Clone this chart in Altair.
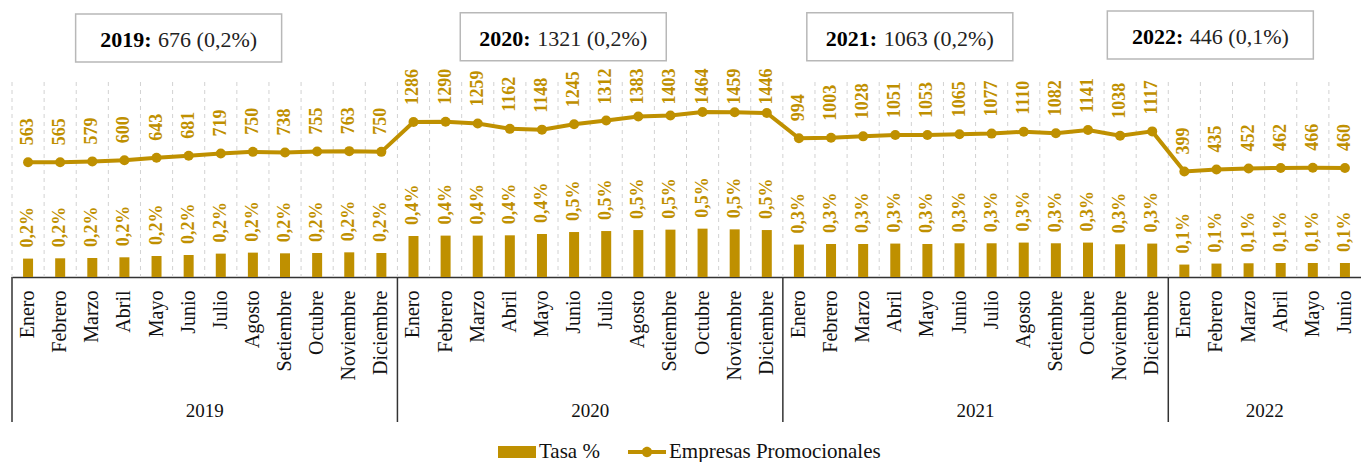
import altair as alt
import pandas as pd

# ---------------- data ----------------
MONTHS = ["Enero", "Febrero", "Marzo", "Abril", "Mayo", "Junio", "Julio",
          "Agosto", "Setiembre", "Octubre", "Noviembre", "Diciembre"]
YEARS = [2019, 2020, 2021, 2022]

EMPRESAS_2019 = [563, 565, 579, 600, 643, 681, 719, 750, 738, 755, 763, 750]
EMPRESAS_2020 = [1286, 1290, 1259, 1162, 1148, 1245, 1312, 1383, 1403, 1464, 1459, 1446]
EMPRESAS_2021 = [994, 1003, 1028, 1051, 1053, 1065, 1077, 1110, 1082, 1141, 1038, 1117]
EMPRESAS_2022 = [399, 435, 452, 462, 466, 460]

TASA_2019 = [0.185, 0.188, 0.191, 0.198, 0.211, 0.221, 0.235, 0.245, 0.238, 0.241, 0.248, 0.241]
TASA_2020 = [0.412, 0.416, 0.416, 0.419, 0.432, 0.452, 0.462, 0.472, 0.476, 0.486, 0.479, 0.472]
TASA_2021 = [0.326, 0.332, 0.332, 0.336, 0.332, 0.339, 0.339, 0.346, 0.339, 0.346, 0.329, 0.336]
TASA_2022 = [0.125, 0.135, 0.138, 0.141, 0.141, 0.141]

YEAR_TOTAL = [676, 1321, 1063, 446]
YEAR_TASA = ["0,2%", "0,2%", "0,2%", "0,1%"]

EMPRESAS = [EMPRESAS_2019, EMPRESAS_2020, EMPRESAS_2021, EMPRESAS_2022]
TASA = [TASA_2019, TASA_2020, TASA_2021, TASA_2022]

# ---------------- layout / style ----------------
W, H = 1349, 195
PAD = {"left": 12, "top": 82, "right": 0, "bottom": 185}
GOLD = "#BF9000"
FONT = "Liberation Serif"
LABEL_CAP = 1295  # line labels are kept below this level (as in the original)
# box centre (in band units from the left) and vertical centre (px from top of page)
BOX_CENTER = [5.188, 17.163, 27.953, 37.309]
BOX_Y = [38, 36.7, 36.7, 35]
BOX_W, BOX_H = 206, 48

rows = []
for y, emp, tas in zip(YEARS, EMPRESAS, TASA):
    for m, e, t in zip(MONTHS, emp, tas):
        rows.append({
            "key": f"{y}|{m}", "year": y, "month": m,
            "empresas": e, "tasa": t,
            "tasa_lbl": f"{t:.1f}".replace(".", ",") + "%",
            "pos_lbl": min(e, LABEL_CAP),
            "serie": "Tasa %",
        })
df = pd.DataFrame(rows)
keys = list(df["key"])
BW = W / len(keys)

x_axis = alt.Axis(
    labelExpr="split(datum.value, '|')[1]",
    labelAngle=270, labelAlign="right", labelBaseline="middle",
    labelPadding=13, labelFont=FONT, labelFontSize=20, labelColor="#111",
    labelOverlap=False, labelLimit=0,
    ticks=False, grid=False, domainColor="#333", domainWidth=1.5,
)
X = alt.X("key:N", scale=alt.Scale(domain=keys, paddingInner=0, paddingOuter=0),
          axis=x_axis, title=None)

# dashed vertical grid at band boundaries
grid = alt.Chart(df).mark_rule(color="#d2d2d2", strokeDash=[4, 4], strokeWidth=1,
                               xOffset=-BW / 2).encode(
    x=X, y=alt.value(0), y2=alt.value(H))

# solid separators between years (below axis)
seps = alt.Chart(df[df["month"] == "Enero"]).mark_rule(
    color="#333", strokeWidth=1.5, xOffset=-BW / 2).encode(
    x=X, y=alt.value(H), y2=alt.value(H + 145))

# ------------- bars ---------------
RECT = "M-1,-0.32L1,-0.32L1,0.32L-1,0.32Z"
LINEDOT = ("M-1,-0.1L1,-0.1L1,0.1L-1,0.1Z"
           "M-0.27,0A0.27,0.27 0 1,1 0.27,0A0.27,0.27 0 1,1 -0.27,0Z")
legend = alt.Legend(
    orient="none", legendX=486, legendY=351, direction="horizontal",
    title=None, symbolSize=1444, labelFont=FONT, labelFontSize=21,
    labelColor="#111", labelOffset=3, columnPadding=28, padding=0, labelLimit=0,
    symbolType={"expr": f"datum.value === 'Tasa %' ? '{RECT}' : '{LINEDOT}'"},
    symbolFillColor=GOLD, symbolStrokeWidth=0, symbolOpacity=1,
)
ybar = alt.Y("tasa:Q", scale=alt.Scale(domain=[0, 1.96], nice=False, zero=True), axis=None)
bars = alt.Chart(df).mark_bar(size=10).encode(
    x=X, y=ybar,
    color=alt.Color("serie:N", scale=alt.Scale(domain=["Tasa %", "Empresas Promocionales"],
                                              range=[GOLD, GOLD]), legend=legend),
)
bar_text = alt.Chart(df).mark_text(
    angle=270, align="left", baseline="middle", dx=11, font=FONT,
    fontSize=18, fontWeight="bold", color=GOLD).encode(x=X, y=ybar, text="tasa_lbl:N")
bar_layer = alt.layer(bars, bar_text)

# ------------- line ---------------
ydom = alt.Scale(domain=[-1493, 2002], nice=False, zero=False)
line = alt.Chart(df).mark_line(color=GOLD, strokeWidth=4).encode(
    x=X, y=alt.Y("empresas:Q", scale=ydom, axis=None))
pts = alt.Chart(df).mark_circle(color=GOLD, size=100, opacity=1).encode(
    x=X, y=alt.Y("empresas:Q", scale=ydom, axis=None))
line_text = alt.Chart(df).mark_text(
    angle=270, align="left", baseline="middle", dx=17, font=FONT,
    fontSize=18, fontWeight="bold", color=GOLD).encode(
    x=X, y=alt.Y("pos_lbl:Q", scale=ydom, axis=None), text="empresas:N")
line_layer = alt.layer(line, pts, line_text)

# ------------- year labels below axis ---------------
yl_rows = []
for y in YEARS:
    sub = df[df["year"] == y]
    yl_rows.append({"key": sub["key"].iloc[len(sub) // 2 - 1], "label": str(y)})
year_labels = alt.Chart(pd.DataFrame(yl_rows)).mark_text(
    font=FONT, fontSize=19, color="#111", baseline="middle", align="center",
    dx=BW / 2).encode(x=X, y=alt.value(H + 134), text="label:N")

# ------------- boxes on top ---------------
BOX_PATH = f"M-1,-{BOX_H / BOX_W:.4f}L1,-{BOX_H / BOX_W:.4f}L1,{BOX_H / BOX_W:.4f}L-1,{BOX_H / BOX_W:.4f}Z"
FS = 22
boxes = []
for y, tot, pct, c, by in zip(YEARS, YEAR_TOTAL, YEAR_TASA, BOX_CENTER, BOX_Y):
    k = int(c)
    off = (c - k - 0.5) * BW
    bdf = pd.DataFrame({"key": [keys[k]]})
    ycen = by - PAD["top"]
    bold_txt = f"{y}:"
    reg_txt = f"{tot} ({pct})"
    bold_w = FS * (0.5 * 4 + 0.333)
    reg_w = FS * (0.5 * len(str(tot)) + 0.25 + 0.333 * 2 + 0.5 + 0.25 + 0.5 + 0.833)
    gap = FS * 0.3
    total = bold_w + gap + reg_w
    bold_end = -total / 2 + bold_w
    boxes.append(alt.Chart(bdf).mark_point(
        shape=BOX_PATH, size=BOX_W ** 2, filled=False, stroke="#b8b8b8",
        strokeWidth=1.5, opacity=1, xOffset=off).encode(x=X, y=alt.value(ycen)))
    boxes.append(alt.Chart(bdf).mark_text(
        align="right", baseline="middle", font=FONT, fontSize=FS, fontWeight="bold",
        color="#000", xOffset=off, dx=bold_end).encode(
        x=X, y=alt.value(ycen + 2), text=alt.value(bold_txt)))
    boxes.append(alt.Chart(bdf).mark_text(
        align="left", baseline="middle", font=FONT, fontSize=FS,
        color="#222", xOffset=off, dx=bold_end + gap).encode(
        x=X, y=alt.value(ycen + 2), text=alt.value(reg_txt)))

chart = alt.layer(grid, seps, bar_layer, line_layer, year_labels, *boxes).resolve_scale(
    y="independent"
).properties(
    width=W, height=H, padding=PAD, autosize=alt.AutoSizeParams(type="none"),
).configure_view(stroke=None)

chart.save("out.html", embed_options={"renderer": "svg", "actions": False})
